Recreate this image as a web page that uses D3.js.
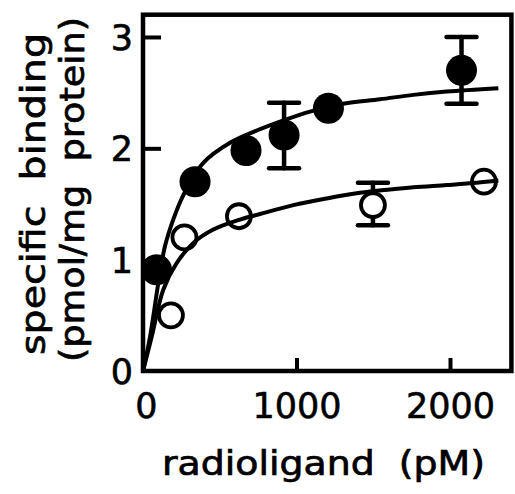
<!DOCTYPE html>
<html>
<head>
<meta charset="utf-8">
<script src="https://cdn.jsdelivr.net/npm/d3@7"></script>
<style>
  html, body { margin: 0; padding: 0; background: #fff; }
  svg { display: block; }
  text { font-family: "DejaVu Sans", sans-serif; fill: #000; white-space: pre; }
</style>
</head>
<body>
<svg id="chart" width="515" height="494"></svg>
<script>
// ---- data ----
// filled circles: radioligand (pM), specific binding (pmol/mg protein)
const filledX  = [88, 339, 671, 919, 1208, 2075];
const filledY  = [0.91, 1.70, 1.98, 2.12, 2.36, 2.70];
const filledHi = [null, null, null, 2.41, null, 3.00];
const filledLo = [null, null, null, 1.82, null, 2.40];

// open circles
const openX  = [182, 270, 625, 1498, 2221];
const openY  = [0.50, 1.20, 1.39, 1.49, 1.70];
const openHi = [null, null, null, 1.69, null];
const openLo = [null, null, null, 1.31, null];

// fitted curves (traced)
const fitFilledX = [0, 46, 100, 143, 197, 263, 393, 567, 741, 893, 1088, 1305, 1544, 1761, 1979, 2315];
const fitFilledY = [0, 0.31, 0.79, 1.12, 1.36, 1.58, 1.87, 2.05, 2.16, 2.24, 2.33, 2.40, 2.44, 2.48, 2.51, 2.54];
const fitOpenX = [0, 57, 132, 220, 328, 458, 632, 762, 979, 1197, 1414, 1609, 1761, 1979, 2174, 2315];
const fitOpenY = [0, 0.31, 0.73, 0.97, 1.15, 1.27, 1.36, 1.41, 1.49, 1.55, 1.60, 1.63, 1.65, 1.67, 1.69, 1.71];

const xTickLabels = [0, 1000, 2000];
const xTickMarks  = [1000, 2000];
const yTickLabels = [0, 1, 2, 3];
const yTickMarks  = [2, 3];

const xTitle = "radioligand  (pM)";
const yTitle1 = "specific  binding";
const yTitle2 = "(pmol/mg  protein)";

// ---- drawing ----
const svg = d3.select("#chart");
const x = d3.scaleLinear().domain([0, 2400]).range([143, 511.4]);
const y = d3.scaleLinear().domain([0, 3.2]).range([371, 14.7]);

const pLeft = x(0), pRight = x(2400), pTop = y(3.2), pBottom = y(0);

svg.append("defs").append("clipPath").attr("id", "plot")
  .append("rect").attr("x", pLeft).attr("y", pTop)
  .attr("width", pRight - pLeft).attr("height", pBottom - pTop);

// inward tick marks
const xTicks = d3.axisTop(x).tickValues(xTickMarks).tickSize(13).tickFormat("");
svg.append("g").attr("transform", `translate(0,${pBottom})`).call(xTicks)
  .call(g => g.select(".domain").remove())
  .call(g => g.selectAll("line").attr("stroke", "#000").attr("stroke-width", 4));
const yTicks = d3.axisRight(y).tickValues(yTickMarks).tickSize(18).tickFormat("");
svg.append("g").attr("transform", `translate(${pLeft},0)`).call(yTicks)
  .call(g => g.select(".domain").remove())
  .call(g => g.selectAll("line").attr("stroke", "#000").attr("stroke-width", 4));

// tick labels
const xLab = d3.axisBottom(x).tickValues(xTickLabels).tickSize(0).tickPadding(22).tickFormat(d3.format("d"));
svg.append("g").attr("transform", `translate(0,${pBottom})`).call(xLab)
  .call(g => g.select(".domain").remove())
  .call(g => g.selectAll("text").attr("font-size", 35).attr("font-family", "DejaVu Sans")
    .attr("stroke", "#000").attr("stroke-width", 0.6)
    .attr("dy", "0.71em").attr("dx", d => d === 0 ? 3 : 0));
const yLab = d3.axisLeft(y).tickValues(yTickLabels).tickSize(0).tickPadding(10).tickFormat(d3.format("d"));
svg.append("g").attr("transform", `translate(${pLeft},0)`).call(yLab)
  .call(g => g.select(".domain").remove())
  .call(g => g.selectAll("text").attr("font-size", 35).attr("font-family", "DejaVu Sans")
    .attr("stroke", "#000").attr("stroke-width", 0.6).attr("dy", "0.36em"));

// curves
const line = d3.line().x(d => x(d[0])).y(d => y(d[1])).curve(d3.curveCatmullRom.alpha(0.5));
const gCurves = svg.append("g").attr("clip-path", "url(#plot)");
gCurves.append("path").datum(d3.zip(fitFilledX, fitFilledY)).attr("d", line)
  .attr("fill", "none").attr("stroke", "#000").attr("stroke-width", 4);
gCurves.append("path").datum(d3.zip(fitOpenX, fitOpenY)).attr("d", line)
  .attr("fill", "none").attr("stroke", "#000").attr("stroke-width", 4);

// error bars
const capW = 15, rOpen = 12, rFilled = 15.5;
function errBars(xs, ys, his, los, r) {
  const g = svg.append("g").attr("stroke", "#000").attr("stroke-width", 4.5).attr("stroke-linecap", "round");
  xs.forEach((xv, i) => {
    if (his[i] == null) return;
    const cx = x(xv);
    g.append("line").attr("x1", cx).attr("x2", cx).attr("y1", y(his[i])).attr("y2", y(ys[i]) - r);
    g.append("line").attr("x1", cx).attr("x2", cx).attr("y1", y(ys[i]) + r).attr("y2", y(los[i]));
    g.append("line").attr("x1", cx - capW).attr("x2", cx + capW).attr("y1", y(his[i])).attr("y2", y(his[i]));
    g.append("line").attr("x1", cx - capW).attr("x2", cx + capW).attr("y1", y(los[i])).attr("y2", y(los[i]));
  });
}
errBars(openX, openY, openHi, openLo, rOpen);
errBars(filledX, filledY, filledHi, filledLo, rFilled);

// points
const gPts = svg.append("g").attr("clip-path", "url(#plot)");
gPts.selectAll("circle.open").data(d3.zip(openX, openY)).join("circle").attr("class", "open")
  .attr("cx", d => x(d[0])).attr("cy", d => y(d[1])).attr("r", rOpen)
  .attr("fill", "none").attr("stroke", "#000").attr("stroke-width", 3.8);
gPts.selectAll("circle.filled").data(d3.zip(filledX, filledY)).join("circle").attr("class", "filled")
  .attr("cx", d => x(d[0])).attr("cy", d => y(d[1])).attr("r", rFilled)
  .attr("fill", "#000");

// frame
svg.append("rect").attr("x", pLeft).attr("y", pTop).attr("width", pRight - pLeft).attr("height", pBottom - pTop)
  .attr("fill", "none").attr("stroke", "#000").attr("stroke-width", 4.5);

// axis titles
function title(sel) {
  return sel.attr("font-size", 33).attr("stroke", "#000").attr("stroke-width", 0.7)
    .attr("lengthAdjust", "spacingAndGlyphs").attr("xml:space", "preserve");
}
svg.append("text").attr("x", 162).attr("y", 475).call(title)
  .attr("textLength", 323).text(xTitle);
svg.append("text").attr("transform", "translate(45,355) rotate(-90)").call(title)
  .attr("textLength", 322).text(yTitle1);
svg.append("text").attr("transform", "translate(84,362) rotate(-90)").call(title)
  .attr("textLength", 345).text(yTitle2);
</script>
</body>
</html>
